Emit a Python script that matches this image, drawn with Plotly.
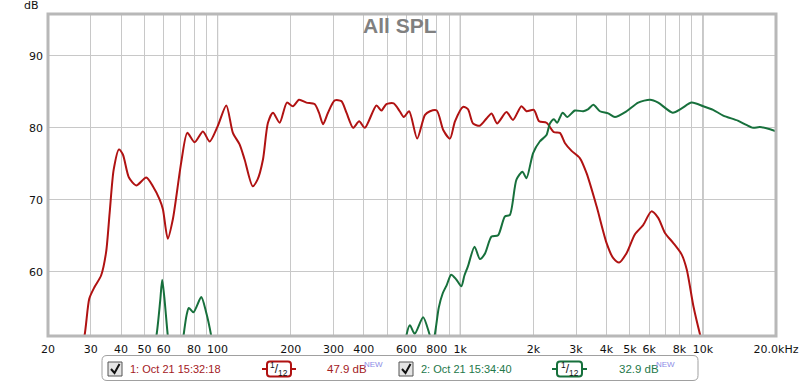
import plotly.graph_objects as go

# ---------------- data ----------------
freq_1 = [26, 28.3, 29.6, 31.1, 33.1, 34.7, 35.9, 37.3, 39.2, 40.7, 43.1, 46.2, 50.8, 54.1, 57.6, 59.5,
          62.3, 65.4, 70.8, 75.0, 80.4, 87.0, 92.7, 100, 108.6, 115.6, 123.2, 129.2, 139.4, 146, 153.8,
          161.2, 169.1, 180.2, 193, 204.3, 216.6, 232.2, 251, 261.6, 272, 285, 303.9, 323.7, 339.6,
          361.8, 383.1, 404.4, 451.2, 473, 495.9, 531.6, 563, 584.8, 615.6, 664.3, 715.4, 750.3, 800,
          850.6, 906.6, 951, 1026, 1075, 1129, 1204, 1283, 1346, 1418, 1550, 1649, 1786, 1874, 2010,
          2113, 2266, 2431, 2573, 2698, 2875, 3109, 3314, 3645, 4008, 4270, 4518, 4843, 5240, 5670,
          6134, 6539, 6974, 7550, 8176, 8580, 9140, 9745, 10700]
spl_1 = [46, 51.2, 56.3, 57.9, 59.5, 62.7, 68.2, 74.2, 77.0, 76.3, 73.1, 72.0, 73.1, 71.9, 70.1, 68.7,
         64.6, 67.3, 75.2, 79.3, 78.0, 79.5, 78.1, 80.2, 83.1, 79.3, 77.7, 75.6, 71.9, 72.8, 75.6,
         80.7, 82.1, 80.7, 83.5, 83.0, 83.9, 83.5, 83.3, 82.1, 80.5, 82.1, 83.8, 83.7, 82.1,
         80.0, 80.9, 80.0, 83.1, 82.4, 83.3, 83.4, 82.3, 81.5, 82.3, 78.5, 81.8, 82.3, 82.4,
         79.7, 78.5, 80.9, 82.9, 82.6, 80.6, 80.3, 81.3, 82.0, 80.6, 82.2, 81.1, 83.0, 82.3, 82.5,
         80.9, 80.7, 79.4, 79.3, 77.9, 76.8, 75.8, 73.7, 69.1, 64.0, 61.9, 61.3, 62.6, 65.2, 66.5,
         68.4, 67.5, 65.4, 64.0, 62.4, 60.3, 55.2, 51.2, 46]

freq_2 = [52, 56, 58, 59.1, 60.3, 62.3, 65, 70, 72.4, 74.5, 76.1, 79.5, 85.6, 89.5, 94, 98,
          200, 400, 585, 600, 620, 649, 703, 749, 766, 784, 815, 846, 880, 917, 960, 1010, 1040,
          1076, 1145, 1204, 1262, 1345, 1432, 1527, 1600, 1704, 1803, 1874, 1996, 2126, 2266, 2340,
          2431, 2508, 2640, 2758, 2966, 3213, 3370, 3535, 3763, 4070, 4337, 4844, 5411, 6050, 6540,
          7505, 8175, 8980, 10030, 11010, 12120, 13920, 15100, 16090, 17150, 18900, 20000]
spl_2 = [46, 51.2, 56, 58.9, 56.5, 51.2, 46, 47, 51.2, 54, 55.0, 54.4, 56.5, 54.5, 51.2, 47,
         44, 44, 47, 51.2, 52.6, 51.4, 53.7, 51.2, 50.3, 51.2, 55, 57.0, 58.2, 59.6, 59, 58.0, 59.5,
         60.8, 63.5, 61.8, 62.5, 64.9, 65.1, 67.7, 67.9, 72.8, 73.9, 73.0, 76.5, 78.1, 79.0, 80.6,
         81.2, 80.7, 82.1, 81.5, 82.4, 82.3, 82.6, 83.2, 82.3, 82.0, 81.5, 82.3, 83.5, 83.9, 83.5,
         82.1, 82.7, 83.5, 83.0, 82.5, 81.7, 81.0, 80.4, 80.0, 80.1, 79.8, 79.5]

grid_freqs = [20, 30, 40, 50, 60, 70, 80, 90, 100, 200, 300, 400, 500, 600, 700, 800, 900,
              1000, 2000, 3000, 4000, 5000, 6000, 7000, 8000, 9000, 10000, 20000]
grid_labels = ["20", "30", "40", "50", "60", "", "80", "", "100", "200", "300", "400", "", "600", "",
               "800", "", "1k", "2k", "3k", "4k", "5k", "6k", "", "8k", "", "10k", "20.0kHz"]
decades = [100, 1000, 10000]
db_ticks = [60, 70, 80, 90]
db_labels = ["60", "70", "80", "90"]

legend_names = ["1: Oct 21 15:32:18", "2: Oct 21 15:34:40"]
legend_levels = ["47.9 dB", "32.9 dB"]

RED = "#b01212"
GREEN = "#17703c"
RED_TXT = "#a3201e"
GREEN_TXT = "#23784a"

# ---------------- layout helpers ----------------
L, R, T, B = 48, 24, 14, 47
W = 800 - L - R
H = 383 - T - B


def px(x):
    return (x - L) / W


def py(y):
    return (T + H - y) / H


def rrect(x0, y0, x1, y1, r):
    pts = [
        ("M", x0 + r, y0), ("L", x1 - r, y0), ("Q", x1, y0, x1, y0 + r),
        ("L", x1, y1 - r), ("Q", x1, y1, x1 - r, y1), ("L", x0 + r, y1),
        ("Q", x0, y1, x0, y1 - r), ("L", x0, y0 + r), ("Q", x0, y0, x0 + r, y0),
    ]
    s = ""
    for p in pts:
        if p[0] == "Q":
            s += "Q%.5f,%.5f %.5f,%.5f " % (px(p[1]), py(p[2]), px(p[3]), py(p[4]))
        else:
            s += "%s%.5f,%.5f " % (p[0], px(p[1]), py(p[2]))
    return s + "Z"


fig = go.Figure()
fig.add_trace(go.Scatter(x=freq_1, y=spl_1, mode="lines",
                         line=dict(color=RED, width=2, shape="spline", smoothing=0.7),
                         hoverinfo="skip", showlegend=False))
fig.add_trace(go.Scatter(x=freq_2, y=spl_2, mode="lines",
                         line=dict(color=GREEN, width=2, shape="spline", smoothing=0.7),
                         hoverinfo="skip", showlegend=False))

shapes = []
for d in decades:
    shapes.append(dict(type="line", xref="x", yref="y", x0=d, x1=d, y0=40, y1=110,
                       line=dict(color="#8a8a8a", width=1), layer="below"))
# plot border
shapes.append(dict(type="rect", xref="paper", yref="paper", x0=0, x1=1, y0=0, y1=1,
                   line=dict(color="#b8b8b8", width=3), layer="above"))

annotations = [
    dict(text="dB", x=px(41), y=py(6), xref="paper", yref="paper", xanchor="right", yanchor="middle",
         showarrow=False, font=dict(family="DejaVu Sans", size=11, color="#111")),
    dict(text="<b>All SPL</b>", x=px(400), y=py(26), xref="paper", yref="paper", xanchor="center",
         yanchor="middle", showarrow=False, font=dict(family="Liberation Sans", size=21, color="#808080")),
]

# legend box
shapes.append(dict(type="path", xref="paper", yref="paper", path=rrect(102, 355.5, 698, 380.5, 5),
                   line=dict(color="#a0a0a0", width=1), fillcolor="white", layer="above"))

entries = [
    dict(cb=108, name_x=128, icon=(262, 296), lvl_x=325, color=RED, tcolor=RED_TXT),
    dict(cb=399, name_x=419, icon=(552, 587), lvl_x=617, color=GREEN, tcolor=GREEN_TXT),
]
cy = 369
for i, e in enumerate(entries):
    shapes.append(dict(type="rect", xref="paper", yref="paper", x0=px(e["cb"]), x1=px(e["cb"] + 14),
                       y0=py(cy - 7), y1=py(cy + 7), line=dict(color="#555", width=1),
                       fillcolor="#e4e4e4", layer="above"))
    cx0 = e["cb"]
    shapes.append(dict(type="path", xref="paper", yref="paper",
                       path="M%.5f,%.5f L%.5f,%.5f L%.5f,%.5f" % (
                           px(cx0 + 3), py(cy), px(cx0 + 6.5), py(cy + 4), px(cx0 + 11.5), py(cy - 5)),
                       line=dict(color="#111", width=2), layer="above"))
    annotations.append(dict(text=legend_names[i], x=px(e["name_x"]), y=py(cy), xref="paper", yref="paper",
                            xanchor="left", yanchor="middle", showarrow=False,
                            font=dict(family="Liberation Sans", size=11, color=e["tcolor"])))
    a, b = e["icon"]
    shapes.append(dict(type="line", xref="paper", yref="paper", x0=px(a), x1=px(b), y0=py(cy), y1=py(cy),
                       line=dict(color=e["color"], width=2), layer="above"))
    shapes.append(dict(type="path", xref="paper", yref="paper", path=rrect(a + 5, cy - 7.5, b - 5, cy + 7.5, 3),
                       line=dict(color=e["color"], width=2), fillcolor="white", layer="above"))
    annotations.append(dict(text="<sup>1</sup>/<sub>12</sub>", x=px((a + b) / 2), y=py(cy), xref="paper",
                            yref="paper", xanchor="center", yanchor="middle", showarrow=False,
                            font=dict(family="Liberation Sans", size=12, color="#111")))
    annotations.append(dict(text=legend_levels[i], x=px(e["lvl_x"]), y=py(cy), xref="paper", yref="paper",
                            xanchor="left", yanchor="middle", showarrow=False,
                            font=dict(family="Liberation Sans", size=11.5, color=e["tcolor"])))
    annotations.append(dict(text="NEW", x=px(e["lvl_x"] + 37), y=py(cy - 5), xref="paper", yref="paper",
                            xanchor="left", yanchor="middle", showarrow=False,
                            font=dict(family="Liberation Sans", size=8, color="#8c8ce6")))

fig.update_layout(
    width=800, height=383, autosize=False,
    margin=dict(l=L, r=R, t=T, b=B, pad=0, autoexpand=False),
    paper_bgcolor="white", plot_bgcolor="white",
    xaxis=dict(type="log", range=[1.30103, 4.30103], tickvals=grid_freqs, ticktext=grid_labels,
               showgrid=True, gridcolor="#c8c8c8", gridwidth=1, zeroline=False, showline=False,
               ticks="", ticklabelstandoff=5, automargin=False,
               tickfont=dict(family="DejaVu Sans", size=11, color="#111")),
    yaxis=dict(range=[51.1, 95.8], tickvals=db_ticks, ticktext=db_labels, showgrid=True,
               gridcolor="#c8c8c8", gridwidth=1, zeroline=False, showline=False, ticks="",
               ticklabelstandoff=4, automargin=False,
               tickfont=dict(family="DejaVu Sans", size=11, color="#111")),
    shapes=shapes,
    annotations=annotations,
    showlegend=False,
)

fig.write_html("out.html", config={"displayModeBar": False, "responsive": False},
               post_script="document.body.style.margin='0';")
